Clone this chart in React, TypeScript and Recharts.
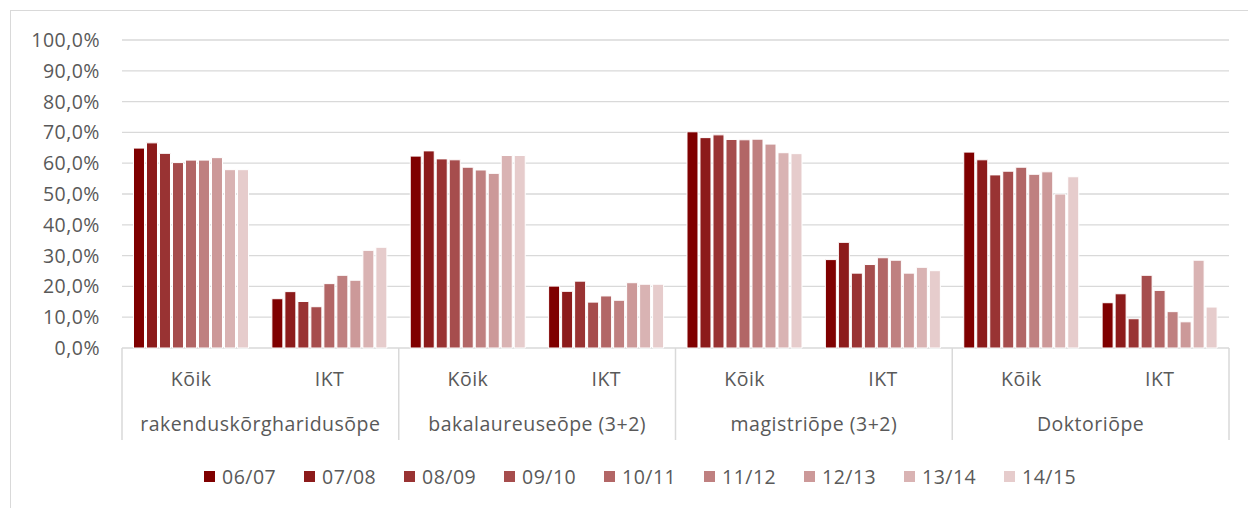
import React from 'react';
import { BarChart, Bar, XAxis, YAxis, CartesianGrid, Legend } from 'recharts';

const subCategories = ['Kõik', 'IKT', 'Kõik', 'IKT', 'Kõik', 'IKT', 'Kõik', 'IKT'];
const groupLabels = ['rakenduskõrgharidusõpe', 'bakalaureuseõpe (3+2)', 'magistriõpe (3+2)', 'Doktoriõpe'];
const years = ['06/07', '07/08', '08/09', '09/10', '10/11', '11/12', '12/13', '13/14', '14/15'];

// order: rak Kõik, rak IKT, bak Kõik, bak IKT, mag Kõik, mag IKT, dok Kõik, dok IKT
const v0607 = [64.9, 16.0, 62.3, 20.1, 70.2, 28.7, 63.6, 14.7];
const v0708 = [66.6, 18.3, 64.0, 18.4, 68.3, 34.3, 61.1, 17.6];
const v0809 = [63.2, 15.1, 61.4, 21.7, 69.2, 24.3, 56.2, 9.5];
const v0910 = [60.2, 13.4, 61.1, 14.9, 67.7, 27.1, 57.4, 23.6];
const v1011 = [61.0, 20.9, 58.7, 16.9, 67.6, 29.3, 58.7, 18.7];
const v1112 = [61.0, 23.6, 57.8, 15.5, 67.8, 28.5, 56.4, 11.8];
const v1213 = [61.8, 22.0, 56.7, 21.2, 66.2, 24.3, 57.2, 8.5];
const v1314 = [57.9, 31.7, 62.5, 20.7, 63.4, 26.2, 50.0, 28.5];
const v1415 = [57.9, 32.7, 62.5, 20.7, 63.1, 25.1, 55.6, 13.3];

const yTicks = [0, 10, 20, 30, 40, 50, 60, 70, 80, 90, 100];

const colors = ['#7f0000', '#8c1b1b', '#993333', '#a64d4d', '#b26666', '#bf8080', '#cc9999', '#d9b3b3', '#e6cccc'];

const seriesValues = [v0607, v0708, v0809, v0910, v1011, v1112, v1213, v1314, v1415];

const data = subCategories.map((sub, i) => {
  const row: any = { key: `c${i}`, sub, group: groupLabels[Math.floor(i / 2)] };
  seriesValues.forEach((vals, s) => {
    row[`s${s}`] = vals[i];
  });
  return row;
});

const FONT = '"Open Sans", sans-serif';
const FS = 19.5;
const LS = 0.5;
const TEXT = '#595959';
const LINE = '#d9d9d9';

const CategoryTick = (props: any) => {
  const { x, y, payload } = props;
  const i = payload.index;
  const half = payload.offset;
  const row = data[i];
  return (
    <g>
      <text x={x} y={y + 38} textAnchor="middle" fill={TEXT} fontSize={FS} letterSpacing={LS} fontFamily={FONT}>
        {row.sub}
      </text>
      {i % 2 === 0 && (
        <>
          <line x1={x - half} x2={x - half} y1={y} y2={y + 92} stroke={LINE} strokeWidth={1.5} />
          <text x={x + half} y={y + 83} textAnchor="middle" fill={TEXT} fontSize={FS} letterSpacing={LS} fontFamily={FONT}>
            {row.group}
          </text>
        </>
      )}
      {i === data.length - 1 && (
        <line x1={x + half} x2={x + half} y1={y} y2={y + 92} stroke={LINE} strokeWidth={1.5} />
      )}
    </g>
  );
};

const LegendContent = (props: any) => {
  const payload = props.payload || [];
  return (
    <div style={{ display: 'flex', paddingLeft: 204, height: 28, alignItems: 'center', fontFamily: FONT, fontSize: FS, letterSpacing: LS, color: TEXT }}>
      {payload.map((p: any) => (
        <div key={p.value} style={{ width: 100, display: 'flex', alignItems: 'center' }}>
          <span style={{ display: 'inline-block', width: 11, height: 11, background: p.color, marginRight: 7 }} />
          <span>{p.value}</span>
        </div>
      ))}
    </div>
  );
};

export default function App() {
  return (
    <div style={{ position: 'absolute', left: 0, top: 0, width: 1248, height: 508, overflow: 'hidden', background: '#fff' }}>
      <div style={{ position: 'absolute', left: 10, top: 10, width: 1400, height: 700, border: `1.5px solid ${LINE}` }} />
      <div style={{ position: 'absolute', left: 0, top: 0 }}>
        <BarChart
          width={1248}
          height={508}
          data={data}
          margin={{ top: 40, right: 19, left: 0, bottom: 18 }}
          barCategoryGap="8.3%"
          barGap={2}
        >
          <CartesianGrid horizontal vertical={false} stroke={LINE} strokeWidth={1.3} />
          <XAxis
            dataKey="key"
            interval={0}
            axisLine={false}
            tickLine={false}
            tickSize={0}
            tickMargin={0}
            height={114}
            tick={<CategoryTick />}
          />
          <YAxis
            domain={[0, 100]}
            ticks={yTicks}
            interval={0}
            width={122}
            axisLine={false}
            tickLine={false}
            tickSize={0}
            tickMargin={22}
            tick={{ fill: TEXT, fontSize: FS, fontFamily: FONT, letterSpacing: LS }}
            tickFormatter={(v: number) => v.toFixed(1).replace('.', ',') + '%'}
          />
          <Legend verticalAlign="bottom" content={<LegendContent />} wrapperStyle={{ left: 0, width: 1248 }} />
          {years.map((yr, s) => (
            <Bar
              key={yr}
              dataKey={`s${s}`}
              name={yr}
              fill={colors[s]}
              stroke="#ffffff"
              strokeWidth={1}
              isAnimationActive={false}
            />
          ))}
        </BarChart>
      </div>
    </div>
  );
}
